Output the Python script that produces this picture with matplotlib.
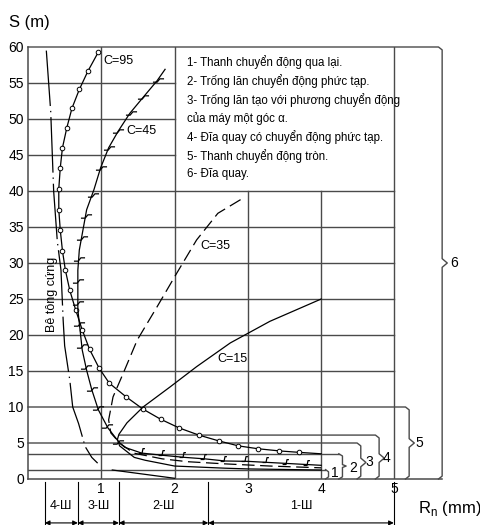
import matplotlib
matplotlib.use('Agg')
import matplotlib.pyplot as plt
from matplotlib.path import Path

plt.rcParams['font.family'] = ['Liberation Sans', 'DejaVu Sans']
plt.rcParams['lines.scale_dashes'] = False

# --- data (x: Rn in mm, y: S in m) ---
# "Be tong cung" chain line
bt_x = [0.25, 0.31, 0.35, 0.40, 0.45, 0.48, 0.50, 0.57, 0.61, 0.69, 0.78, 0.87, 0.95]
bt_y = [59.5, 51.0, 40.0, 33.0, 29.0, 22.0, 18.5, 13.75, 10.0, 7.7, 4.5, 3.0, 2.2]

# short solid line near the bottom
low_x = [1.15, 2.0]
low_y = [1.25, 0.1]

# C=95 curve (open circles)
c95_x = [0.96, 0.82, 0.70, 0.60, 0.53, 0.47, 0.44, 0.42, 0.42, 0.44, 0.47, 0.51, 0.57,
         0.65, 0.74, 0.84, 0.97, 1.11, 1.34, 1.57, 1.81, 2.06, 2.33, 2.60, 2.87, 3.14,
         3.43, 3.70, 4.00]
c95_y = [59.3, 56.7, 54.1, 51.5, 48.8, 46.0, 43.2, 40.3, 37.4, 34.6, 31.7, 29.0, 26.2,
         23.5, 20.7, 18.0, 15.4, 13.3, 11.4, 9.7, 8.3, 7.1, 6.1, 5.3, 4.6, 4.2,
         3.9, 3.7, 3.5]

# C=45 curve (hash marks)
c45_x = [1.87, 1.76, 1.57, 1.39, 1.23, 1.10, 0.99, 0.90, 0.80, 0.75, 0.70, 0.68, 0.68,
         0.68, 0.71, 0.74, 0.80, 0.87, 0.96, 1.09, 1.25, 1.32, 1.55, 1.83, 2.14, 2.41,
         2.69, 3.00, 3.46, 4.00]
c45_y = [56.9, 55.3, 53.0, 50.8, 48.3, 46.0, 43.2, 40.2, 37.4, 34.6, 31.8, 29.0, 26.3,
         23.5, 20.7, 17.9, 15.1, 12.4, 9.6, 7.1, 5.0, 4.4, 3.6, 3.3, 3.0, 2.8,
         2.5, 2.45, 2.2, 1.9]
c45_mark_x = [1.77, 1.57, 1.40, 1.23, 1.10, 1.00, 0.89, 0.79, 0.73, 0.69, 0.68, 0.68,
              0.70, 0.73, 0.79, 0.87, 0.95, 1.08, 1.23]
c45_mark_y = [55.4, 53.1, 50.8, 48.3, 46.0, 43.2, 39.5, 36.5, 33.5, 30.5, 27.5, 24.5,
              21.5, 18.5, 15.5, 12.5, 9.8, 7.3, 5.2]
c45_low_mark_x = [1.56, 1.83, 2.12, 2.40, 2.68, 2.96, 3.25, 3.52, 3.80]
c45_low_mark_y = [3.6, 3.3, 3.0, 2.8, 2.5, 2.45, 2.3, 2.15, 2.0]

# C=35 dashed curve
c35_x = [2.90, 2.59, 2.30, 2.03, 1.76, 1.49, 1.30, 1.16, 1.10, 1.13, 1.25, 1.44, 1.83,
         2.18, 2.69, 3.30, 4.00]
c35_y = [38.8, 36.9, 33.2, 28.6, 23.9, 19.3, 14.7, 11.4, 8.2, 6.4, 5.0, 3.6, 2.8,
         2.4, 2.1, 1.8, 1.55]

# C=15 solid curve
c15_x = [4.00, 3.30, 2.76, 2.30, 1.94, 1.57, 1.35, 1.24, 1.22, 1.25, 1.45, 1.60, 2.00,
         2.69, 3.00, 4.00]
c15_y = [25.0, 21.9, 18.9, 15.6, 12.8, 10.0, 7.8, 6.2, 5.5, 4.6, 3.0, 2.6, 1.8,
         1.5, 1.4, 1.25]

legend_lines = [
    '1- Thanh chuyển động qua lại.',
    '2- Trống lăn chuyển động phức tạp.',
    '3- Trống lăn tạo với phương chuyển động',
    'của máy một góc α.',
    '4- Đĩa quay có chuyển động phức tạp.',
    '5- Thanh chuyển động tròn.',
    '6- Đĩa quay.',
]

zone_edges = [0.23, 0.68, 1.24, 2.46, 4.99]
zone_labels = ['4-Ш', '3-Ш', '2-Ш', '1-Ш']

y_ticks = list(range(0, 61, 5))
x_ticks = [1, 2, 3, 4, 5]

GRID = '#4a4a4a'
INK = 'black'


def bracket(ax, x_start, x_b, y_top, y_peak, nub=0.07, rx=0.05, ry=0.4, dy=0.6):
    xs = [x_start, x_b - rx, x_b, x_b, x_b + nub, x_b, x_b, x_b - rx]
    ys = [y_top, y_top, y_top - ry, y_peak + dy, y_peak, y_peak - dy, ry, 0]
    ax.plot(xs, ys, color=GRID, lw=1.0, clip_on=False)


fig = plt.figure(figsize=(4.81, 5.25), dpi=100)
ax = fig.add_axes([28 / 481, 46 / 525, 6.0 * 73.3 / 481, 432 / 525])
ax.set_xlim(0, 6.0)
ax.set_ylim(0, 60)
for s in ax.spines.values():
    s.set_visible(False)
ax.set_xticks(x_ticks)
ax.set_yticks(y_ticks)
ax.tick_params(length=0, labelsize=10)
ax.tick_params(axis='x', pad=2)
ax.tick_params(axis='y', pad=3)

# frame and grid
ax.plot([0, 0], [0, 60], color=GRID, lw=1.1, clip_on=False)
ax.plot([0, 5.65], [0, 0], color=GRID, lw=1.1, clip_on=False)
for yv in [15, 20, 25, 30, 35, 40]:
    ax.plot([0, 5], [yv, yv], color=GRID, lw=1.0)
for yv in [45, 50, 55]:
    ax.plot([0, 2], [yv, yv], color=GRID, lw=1.0)
ax.plot([1, 1], [0, 60], color=GRID, lw=1.0)
ax.plot([2, 2], [0, 60], color=GRID, lw=1.0)
ax.plot([3, 3], [0, 40], color=GRID, lw=1.0)
ax.plot([4, 4], [0, 40], color=GRID, lw=1.0)
ax.plot([5, 5], [0, 60], color=GRID, lw=1.0)
ax.plot([0, 4.24], [3.5, 3.5], color=GRID, lw=1.0)
ax.plot([0, 4.05], [1.3, 1.3], color=GRID, lw=1.0)

# brackets 3..6
bracket(ax, 0, 5.65, 60, 30)
bracket(ax, 0, 5.20, 10, 5.0)
bracket(ax, 1.25, 4.79, 6.1, 2.9)
bracket(ax, 0, 4.54, 5.0, 2.3)
# bracket 2 and 1 (small braces)
ax.plot([4.24, 4.29, 4.29, 4.34, 4.29, 4.29, 4.24], [3.5, 3.2, 2.0, 1.8, 1.6, 0.3, 0],
        color=GRID, lw=1.0, clip_on=False)
ax.plot([4.06, 4.10, 4.10, 4.06], [1.3, 1.0, 0.3, 0], color=GRID, lw=1.0, clip_on=False)
for lx, ly, lab in [(5.76, 30, '6'), (5.29, 5.0, '5'), (4.84, 2.9, '4'),
                    (4.60, 2.3, '3'), (4.38, 1.5, '2'), (4.14, 0.9, '1')]:
    ax.text(lx, ly, lab, fontsize=10, ha='left', va='center', clip_on=False)

# curves
ax.plot(bt_x, bt_y, color=INK, lw=0.9, dashes=(40, 3.5, 1, 3.5))
ax.plot(low_x, low_y, color=INK, lw=0.9)
ax.plot(c95_x, c95_y, color=INK, lw=0.9)
ax.plot(c95_x[:-1], c95_y[:-1], ls='none', marker='o', ms=3.3, mfc='white',
        mec=INK, mew=0.7)
ax.plot(c45_x, c45_y, color=INK, lw=0.9)
hash_v = Path([(-1, -0.3), (-0.25, -0.3), (0.25, 0.3), (1, 0.3)],
              [Path.MOVETO, Path.LINETO, Path.LINETO, Path.LINETO])
hash_h = Path([(-0.8, 0), (-0.1, 0), (0.1, 1.0), (0.5, 1.0)],
              [Path.MOVETO, Path.LINETO, Path.LINETO, Path.LINETO])
ax.plot(c45_mark_x, c45_mark_y, ls='none', marker=hash_v, ms=8, mfc='none',
        mec=INK, mew=0.9)
ax.plot(c45_low_mark_x, c45_low_mark_y, ls='none', marker=hash_h, ms=7, mfc='none',
        mec=INK, mew=0.9)
ax.plot(c35_x, c35_y, color=INK, lw=0.9, dashes=(9, 4))
ax.plot(c15_x, c15_y, color=INK, lw=0.9)

# curve labels
ax.text(1.03, 58.1, 'C=95', fontsize=9, va='center')
ax.text(1.34, 48.3, 'C=45', fontsize=9, va='center')
ax.text(2.35, 32.4, 'C=35', fontsize=9, va='center')
ax.text(2.59, 16.7, 'C=15', fontsize=9, va='center')
ax.text(0.33, 25.6, 'Bê tông cứng', fontsize=9, rotation=90, ha='center', va='center')

# legend box text
for i, line in enumerate(legend_lines):
    ax.text(2.17, 57.9 - i * 2.6, line, fontsize=8.3, va='center')

# working zones under the axis
for xe in zone_edges:
    ax.plot([xe, xe], [-0.4, -6.5], color=INK, lw=0.8, clip_on=False)
for i, lab in enumerate(zone_labels):
    x0, x1 = zone_edges[i], zone_edges[i + 1]
    ax.annotate('', xy=(x1, -6.1), xytext=(x0, -6.1), annotation_clip=False,
                arrowprops=dict(arrowstyle='<|-|>', lw=0.8, color=INK,
                                shrinkA=0, shrinkB=0, mutation_scale=7))
    ax.text((x0 + x1) / 2, -3.7, lab, fontsize=9, ha='center', va='center',
            clip_on=False)

fig.text(9 / 481, 1 - 22 / 525, 'S (m)', fontsize=12, ha='left', va='center')
fig.text(418 / 481, 1 - 508 / 525, r'R$_\mathregular{n}$ (mm)', fontsize=12,
         ha='left', va='center')

fig.savefig('out.png', dpi=100)
